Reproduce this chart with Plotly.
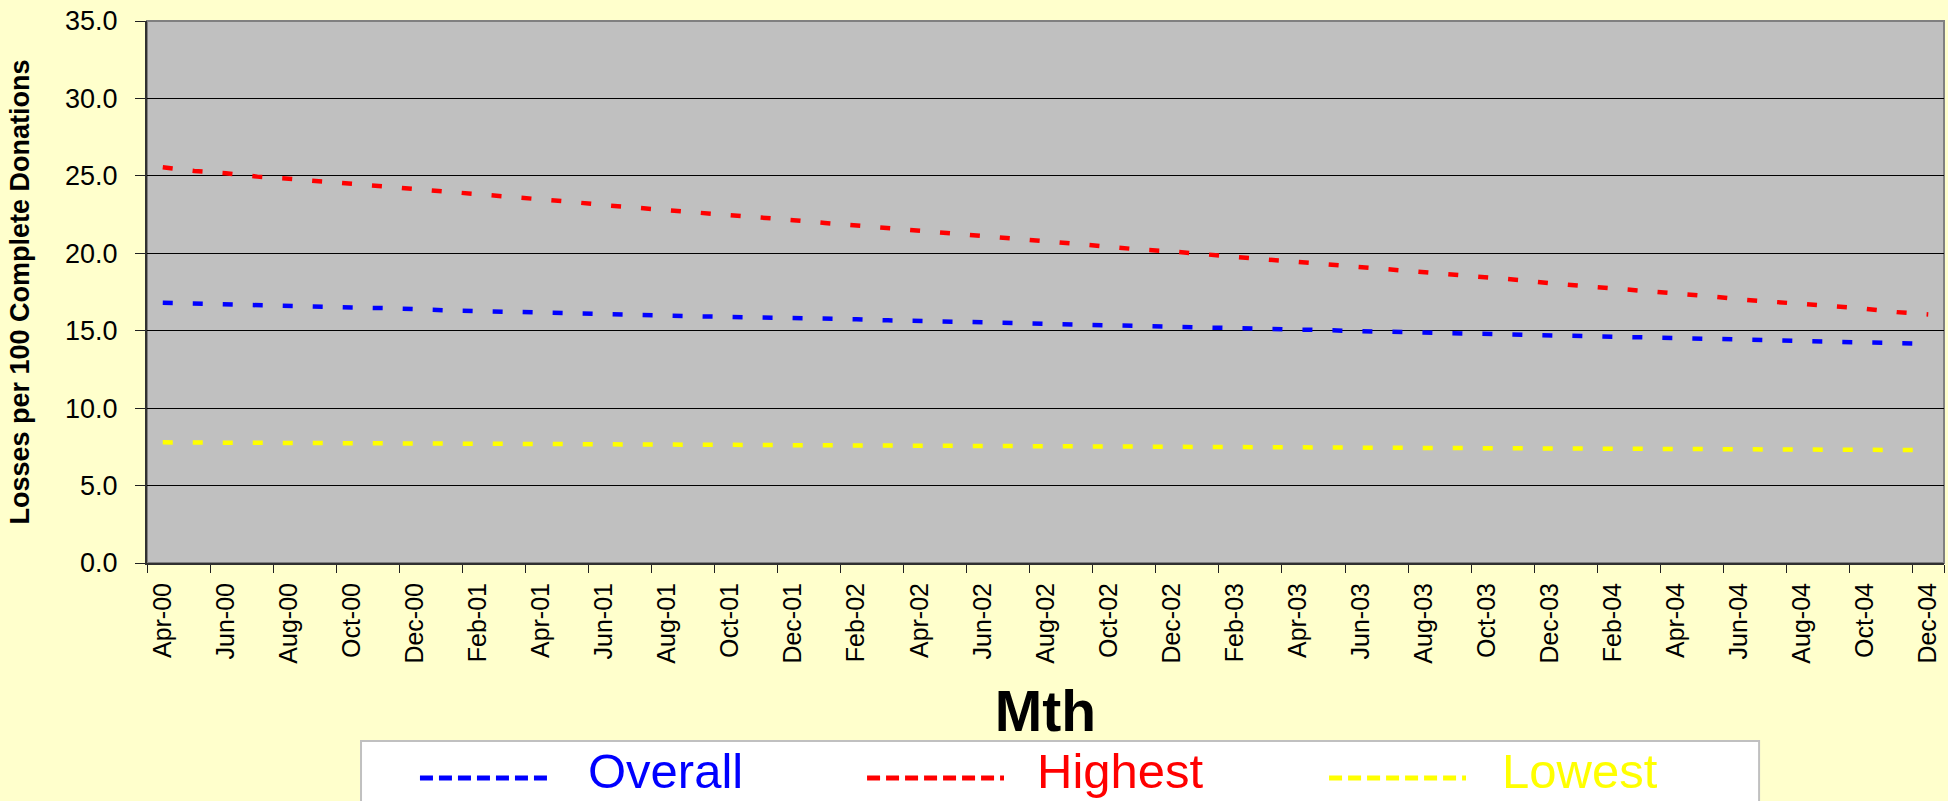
import plotly.graph_objects as go

# --- data ---
months = [
    "Apr-00", "May-00", "Jun-00", "Jul-00", "Aug-00", "Sep-00", "Oct-00", "Nov-00", "Dec-00",
    "Jan-01", "Feb-01", "Mar-01", "Apr-01", "May-01", "Jun-01", "Jul-01", "Aug-01", "Sep-01",
    "Oct-01", "Nov-01", "Dec-01", "Jan-02", "Feb-02", "Mar-02", "Apr-02", "May-02", "Jun-02",
    "Jul-02", "Aug-02", "Sep-02", "Oct-02", "Nov-02", "Dec-02", "Jan-03", "Feb-03", "Mar-03",
    "Apr-03", "May-03", "Jun-03", "Jul-03", "Aug-03", "Sep-03", "Oct-03", "Nov-03", "Dec-03",
    "Jan-04", "Feb-04", "Mar-04", "Apr-04", "May-04", "Jun-04", "Jul-04", "Aug-04", "Sep-04",
    "Oct-04", "Nov-04", "Dec-04",
]
tick_labels = months[::2]

overall = [
    16.80, 16.74, 16.68, 16.64, 16.60, 16.54, 16.50, 16.46, 16.36, 16.32,
    16.27, 16.21, 16.17, 16.12, 16.07, 16.03, 15.98, 15.93, 15.90, 15.85,
    15.80, 15.77, 15.74, 15.67, 15.64, 15.60, 15.54, 15.50, 15.44, 15.40,
    15.37, 15.30, 15.26, 15.23, 15.16, 15.13, 15.10, 15.03, 14.97, 14.93,
    14.88, 14.84, 14.81, 14.74, 14.70, 14.67, 14.60, 14.56, 14.53, 14.46,
    14.42, 14.39, 14.33, 14.29, 14.26, 14.20, 14.16,
]
highest = [
    25.55, 25.32, 25.17, 24.95, 24.81, 24.67, 24.52, 24.32, 24.15, 23.98,
    23.84, 23.70, 23.49, 23.31, 23.11, 22.97, 22.83, 22.62, 22.46, 22.32,
    22.14, 21.96, 21.80, 21.63, 21.45, 21.27, 21.13, 21.00, 20.78, 20.60,
    20.39, 20.24, 20.12, 19.97, 19.75, 19.60, 19.44, 19.28, 19.10, 18.93,
    18.75, 18.58, 18.42, 18.28, 18.06, 17.90, 17.76, 17.53, 17.39, 17.24,
    17.03, 16.88, 16.72, 16.58, 16.42, 16.20, 16.05,
]
lowest = [
    7.79, 7.78, 7.77, 7.76, 7.76, 7.75, 7.74, 7.73, 7.72, 7.71,
    7.70, 7.69, 7.68, 7.67, 7.67, 7.66, 7.65, 7.64, 7.63, 7.62,
    7.61, 7.60, 7.59, 7.58, 7.58, 7.57, 7.56, 7.55, 7.54, 7.53,
    7.52, 7.51, 7.50, 7.49, 7.49, 7.48, 7.47, 7.46, 7.45, 7.44,
    7.43, 7.42, 7.41, 7.40, 7.40, 7.39, 7.38, 7.37, 7.36, 7.35,
    7.34, 7.33, 7.32, 7.31, 7.31, 7.30, 7.29,
]

series = [
    ("Overall", overall, "#0000FF"),
    ("Highest", highest, "#FF0000"),
    ("Lowest", lowest, "#FFFF00"),
]

FONT = "Liberation Sans, Arial, sans-serif"

fig = go.Figure()
for name, vals, col in series:
    fig.add_trace(go.Scatter(
        x=months, y=vals, name=name, mode="lines",
        line=dict(color=col, width=4.5, dash="10px,20px"),
        showlegend=False,
    ))

# hand-built legend box (the reference uses long dashed swatches)
legend_items = [
    # (name, colour, swatch x0, swatch x1, text x) in paper units
    ("Overall", "#0000FF", 0.1519, 0.2259, 0.2443),
    ("Highest", "#FF0000", 0.4007, 0.4769, 0.4942),
    ("Lowest", "#FFFF00", 0.6578, 0.7340, 0.7529),
]
shapes = [
    dict(type="rect", xref="paper", yref="paper", x0=0, x1=1, y0=0, y1=1,
         line=dict(color="#808080", width=2), layer="below"),
    dict(type="rect", xref="paper", yref="paper", x0=0.1191, x1=0.8971, y0=-0.47, y1=-0.3284,
         fillcolor="white", line=dict(color="#C0C0C0", width=2)),
]
annotations = []
for name, col, sx0, sx1, tx in legend_items:
    shapes.append(dict(type="line", xref="paper", yref="paper", x0=sx0, x1=sx1,
                       y0=-0.3967, y1=-0.3967,
                       line=dict(color=col, width=5, dash="13px,6px")))
    annotations.append(dict(text=name, xref="paper", yref="paper", x=tx, y=-0.3830,
                            xanchor="left", yanchor="middle", showarrow=False,
                            font=dict(family=FONT, size=49, color=col)))

fig.update_layout(
    width=1948, height=801,
    margin=dict(l=147, r=4, t=21, b=238),
    paper_bgcolor="#FFFFCC",
    plot_bgcolor="#C0C0C0",
    font=dict(family=FONT, color="black"),
    shapes=shapes,
    annotations=annotations,
    showlegend=False,
)
fig.update_xaxes(
    type="category", range=[-0.5, len(months) - 0.5], automargin=False,
    tickmode="array", tickvals=tick_labels, ticktext=tick_labels,
    tickson="boundaries", ticks="outside", ticklen=8, tickcolor="#202020",
    tickangle=-90, tickfont=dict(size=25), ticklabelstandoff=8,
    showgrid=False, showline=True, linecolor="#303030", linewidth=2,
    title=dict(text="Mth", font=dict(size=57, weight="bold"), standoff=28),
)
fig.update_yaxes(
    range=[0, 35], dtick=5, tickformat=".1f", automargin=False,
    ticks="outside", ticklen=10, tickcolor="#202020", tickfont=dict(size=27),
    ticklabelstandoff=12,
    showgrid=True, gridcolor="#000000", gridwidth=1,
    showline=True, linecolor="#303030", linewidth=2, zeroline=False,
    title=dict(text="Losses per 100 Complete Donations",
               font=dict(size=27, weight="bold"), standoff=28),
)

# drop the default page margin so the figure sits at the window's top-left corner
fig.write_html("out.html", config={"displayModeBar": False},
               post_script="document.body.style.margin='0';")
